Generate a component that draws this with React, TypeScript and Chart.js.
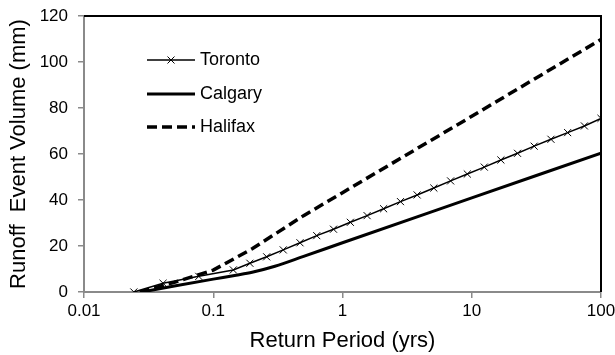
import React, { useEffect, useRef } from "react";
import { Chart, registerables } from "chart.js";

Chart.register(...registerables);

const xTickValues = [0.01, 0.1, 1, 10, 100];
const yTickMax = 120;
const yTickStep = 20;

const torontoPeriods = [0.0243, 0.0409, 0.0773, 0.143, 0.192, 0.259, 0.348, 0.469, 0.632, 0.852, 1.15, 1.55, 2.08, 2.81, 3.78, 5.09, 6.86, 9.24, 12.5, 16.8, 22.6, 30.4, 41.0, 55.2, 74.4, 100];
const torontoVolume = [0, 3.8, 6.8, 9.6, 12.5, 15.3, 18.3, 21.4, 24.5, 27.3, 30.3, 33.2, 36.2, 39.3, 42.2, 45.2, 48.3, 51.3, 54.3, 57.4, 60.3, 63.4, 66.4, 69.3, 72.2, 75.5];

const calgaryPeriods = [0.028, 0.05, 0.1, 0.15, 0.2, 0.3, 0.5, 1, 10, 100];
const calgaryVolume = [0, 2.6, 5.6, 7.3, 8.6, 11.2, 15.5, 21.4, 40.9, 60.4];

const halifaxPeriods = [0.027, 0.05, 0.1, 0.2, 0.5, 1, 10, 100];
const halifaxVolume = [0, 4.2, 9.5, 18.8, 33.2, 43.2, 76.4, 109.8];

const seriesNames = ["Toronto", "Calgary", "Halifax"];

const FONT = "'Liberation Sans', Arial, sans-serif";

const toPoints = (xs: number[], ys: number[]) => xs.map((x, i) => ({ x, y: ys[i] }));

const legendPlugin = {
  id: "customLegend",
  afterDraw(chart: any) {
    const ctx = chart.ctx;
    const rows = [
      { y: 60, ds: chart.data.datasets[0] },
      { y: 94, ds: chart.data.datasets[1] },
      { y: 127, ds: chart.data.datasets[2] },
    ];
    ctx.save();
    rows.forEach((r) => {
      const ds = r.ds;
      ctx.strokeStyle = ds.borderColor;
      ctx.lineWidth = ds.borderWidth;
      ctx.setLineDash(ds.borderDash || []);
      ctx.beginPath();
      ctx.moveTo(147, r.y);
      ctx.lineTo(195, r.y);
      ctx.stroke();
      ctx.setLineDash([]);
      if (ds.pointStyle === "crossRot") {
        const s = 3.5;
        ctx.lineWidth = 1;
        ctx.beginPath();
        ctx.moveTo(171 - s, r.y - s);
        ctx.lineTo(171 + s, r.y + s);
        ctx.moveTo(171 - s, r.y + s);
        ctx.lineTo(171 + s, r.y - s);
        ctx.stroke();
      }
      ctx.fillStyle = "#000";
      ctx.font = `18px ${FONT}`;
      ctx.textBaseline = "middle";
      ctx.textAlign = "left";
      ctx.fillText(ds.label, 200, r.y);
    });
    // top and right border
    const a = chart.chartArea;
    ctx.strokeStyle = "#000";
    ctx.lineWidth = 2;
    ctx.beginPath();
    ctx.moveTo(a.left, a.top);
    ctx.lineTo(a.right, a.top);
    ctx.lineTo(a.right, a.bottom);
    ctx.stroke();
    ctx.restore();
  },
};

export default function App() {
  const ref = useRef<HTMLCanvasElement>(null);
  useEffect(() => {
    if (!ref.current) return;
    const chart = new Chart(ref.current, {
      type: "line",
      data: {
        datasets: [
          {
            label: seriesNames[0],
            data: toPoints(torontoPeriods, torontoVolume),
            borderColor: "#000",
            backgroundColor: "#000",
            borderWidth: 1.5,
            pointStyle: "crossRot",
            pointRadius: 5,
            pointBorderWidth: 1,
            pointBorderColor: "#000",
            fill: false,
          },
          {
            label: seriesNames[1],
            data: toPoints(calgaryPeriods, calgaryVolume),
            borderColor: "#000",
            borderWidth: 3,
            pointRadius: 0,
            cubicInterpolationMode: "monotone",
            fill: false,
          },
          {
            label: seriesNames[2],
            data: toPoints(halifaxPeriods, halifaxVolume),
            borderColor: "#000",
            borderWidth: 3.5,
            borderDash: [10, 5],
            pointRadius: 0,
            fill: false,
          },
        ],
      } as any,
      options: {
        animation: false,
        responsive: false,
        maintainAspectRatio: false,
        layout: { padding: { top: 16, right: 14, left: 0, bottom: 0 } },
        plugins: { legend: { display: false }, tooltip: { enabled: false } },
        scales: {
          x: {
            type: "logarithmic",
            min: 0.01,
            max: 100,
            afterBuildTicks: (scale: any) => {
              scale.ticks = xTickValues.map((v) => ({ value: v }));
            },
            afterFit: (scale: any) => {
              scale.height = 63;
              scale.paddingLeft = 0;
              scale.paddingRight = 0;
            },
            ticks: {
              autoSkip: false,
              maxRotation: 0,
              padding: 3,
              color: "#000",
              font: { family: FONT, size: 17 },
              callback: (v: any) => String(v),
            },
            grid: { drawOnChartArea: false, drawTicks: true, tickLength: 6, color: "#8a8a8a", lineWidth: 1.5 },
            border: { display: true, color: "#8a8a8a", width: 2 },
            title: {
              display: true,
              text: "Return Period (yrs)",
              color: "#000",
              font: { family: FONT, size: 22 },
              padding: { top: 0, bottom: 1 },
            },
          },
          y: {
            min: 0,
            max: yTickMax,
            afterFit: (scale: any) => {
              scale.width = 84;
              scale.paddingTop = 0;
              scale.paddingBottom = 0;
            },
            ticks: {
              stepSize: yTickStep,
              padding: 10,
              color: "#000",
              font: { family: FONT, size: 17 },
            },
            grid: { drawOnChartArea: false, drawTicks: true, tickLength: 6, color: "#8a8a8a", lineWidth: 1.5 },
            border: { display: true, color: "#8a8a8a", width: 2 },
            title: {
              display: true,
              text: "Runoff  Event Volume (mm)",
              color: "#000",
              font: { family: FONT, size: 22 },
              padding: { top: 6, bottom: 0 },
            },
          },
        },
      } as any,
      plugins: [legendPlugin],
    });
    return () => chart.destroy();
  }, []);
  return (
    <div style={{ position: "fixed", left: 0, top: 0, width: 615, height: 355, background: "#fff" }}>
      <canvas ref={ref} width={615} height={355} style={{ width: 615, height: 355, display: "block" }} />
    </div>
  );
}
